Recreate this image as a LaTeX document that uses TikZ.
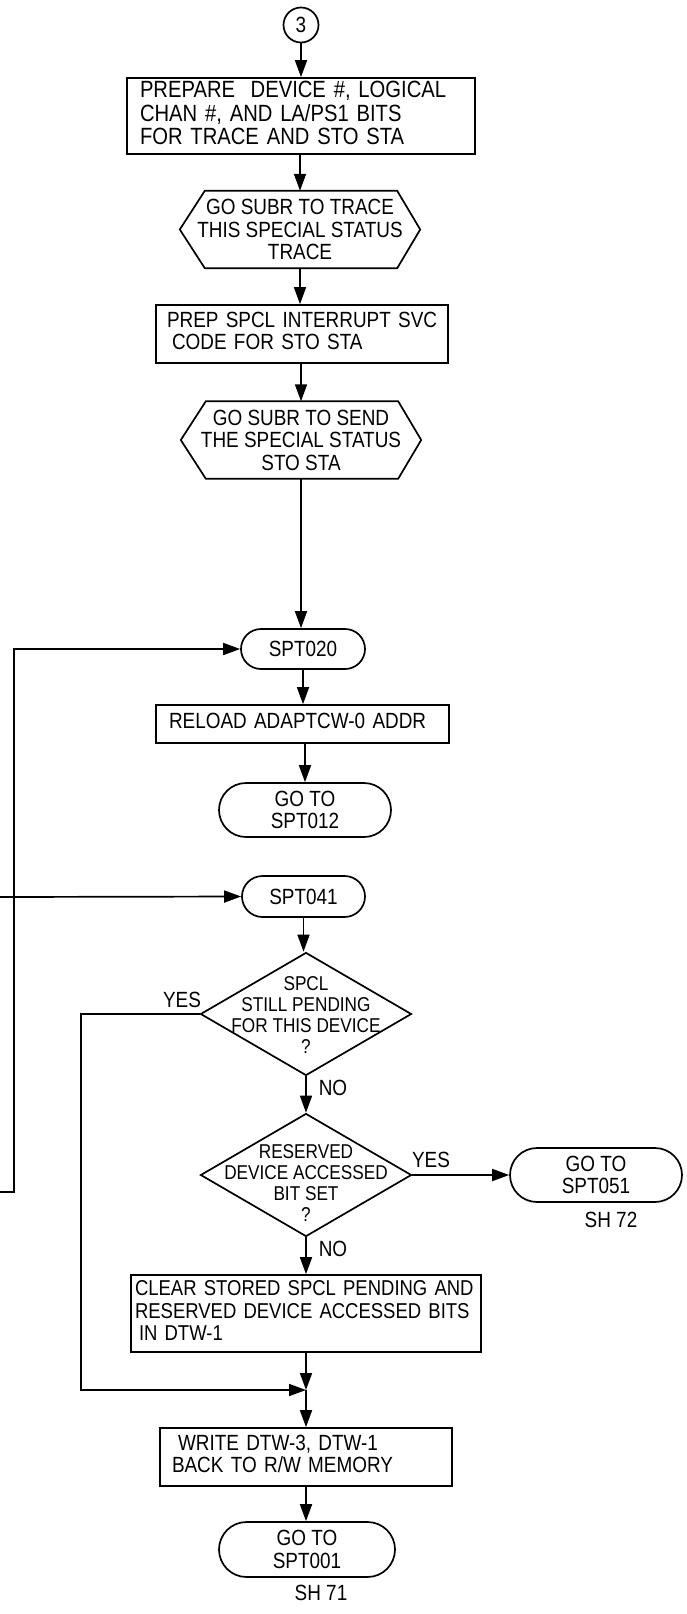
\documentclass[tikz,border=0pt]{standalone}
\usepackage{fontspec}
\setmainfont{Liberation Sans}[FakeStretch=0.86]
\usetikzlibrary{arrows.meta,shapes.geometric,shapes.misc}
\newcommand\hexframe[1]{\draw[line] ([xshift=25pt]#1.north west) -- ([xshift=-23pt]#1.north east) -- (#1.east) -- ([xshift=-23pt]#1.south east) -- ([xshift=25pt]#1.south west) -- (#1.west) -- cycle;}
\newcommand\boxlines[1]{\begin{tabular}{@{}l@{}}#1\end{tabular}}
\begin{document}
\begin{tikzpicture}[x=1pt,y=-1pt,
  line/.style={line width=1.7pt},
  arr/.style={line width=1.7pt,-{Triangle[length=17pt,width=12pt]}},
  ft/.style={font=\fontsize{22}{22.5}\selectfont},
  box/.style={draw,line width=1.7pt,rectangle,align=left,inner ysep=0pt,ft},
  term/.style={draw,line width=1.7pt,rounded rectangle,align=center,inner sep=0pt,ft},
  dia/.style={draw,line width=1.7pt,diamond,inner sep=0pt,minimum width=211pt,minimum height=123pt},
  dtxt/.style={align=center,inner sep=0pt,font=\fontsize{20}{21}\selectfont},
  hexbox/.style={rectangle,inner sep=0pt,minimum width=240pt,minimum height=77pt,align=center,ft},
  lbl/.style={inner sep=0pt,ft},
  circ/.style={draw,line width=1.7pt,circle,minimum size=35pt,inner sep=0pt,ft}]
\useasboundingbox (0,0) rectangle (686,1614);
\fill[white] (0,0) rectangle (686,1614);

\node[circ] (c3) at (301,25) {3};
\node[box,text width=322pt,inner xsep=13pt,minimum height=76pt,font=\fontsize{23.5}{22.5}\selectfont] (b1) at (301,116)
  {\boxlines{PREPARE\ \ DEVICE \#, LOGICAL\\CHAN \#, AND LA/PS1 BITS\\FOR TRACE AND STO STA}};
\node[hexbox] (h1) at (300,229.5) {GO SUBR TO TRACE\\THIS SPECIAL STATUS\\TRACE};
\hexframe{h1}
\node[box,text width=270pt,inner xsep=11pt,minimum height=58pt] (b2) at (302,334)
  {\boxlines{PREP SPCL INTERRUPT SVC\\\hspace*{5pt}CODE FOR STO STA}};
\node[hexbox] (h2) at (301,440) {GO SUBR TO SEND\\THE SPECIAL STATUS\\STO STA};
\hexframe{h2}
\node[term,minimum width=124pt,minimum height=40pt] (s20) at (303,649) {SPT020};
\node[box,text width=267pt,inner xsep=13pt,minimum height=38pt] (rl) at (302.5,724) {\boxlines{RELOAD ADAPTCW-0 ADDR}};
\node[term,minimum width=172pt,minimum height=54pt] (s12) at (305,810) {GO TO\\SPT012};
\node[term,minimum width=123pt,minimum height=41pt] (s41) at (303.5,896.5) {SPT041};

\node[dia] (d1) at (306,1014) {};
\node[dtxt] (d1t) at (306,1015) {SPCL\\STILL PENDING\\FOR THIS DEVICE\\?};
\node[dia] (d2) at (306,1175) {};
\node[dtxt] (d2t) at (306,1183) {RESERVED\\DEVICE ACCESSED\\BIT SET\\?};
\node[term,minimum width=172pt,minimum height=54pt] (s51) at (596,1175) {GO TO\\SPT051};
\node[lbl] (sh72) at (611,1220) {SH 72};

\node[box,text width=342pt,inner xsep=4pt,minimum height=77pt,font=\fontsize{21.5}{22.5}\selectfont] (cl) at (306,1313.5)
  {\boxlines{CLEAR STORED SPCL PENDING AND\\RESERVED DEVICE ACCESSED BITS\\\hspace*{4pt}IN DTW-1}};
\coordinate (j) at (306,1390);
\node[box,text width=268pt,inner xsep=12pt,minimum height=58pt] (wr) at (306,1457)
  {\boxlines{\hspace*{6pt}WRITE DTW-3, DTW-1\\BACK TO R/W MEMORY}};
\node[term,minimum width=176pt,minimum height=55pt] (s01) at (307,1549.5) {GO TO\\SPT001};
\node[lbl] (sh71) at (321,1593) {SH 71};

\node[lbl] (y1) at (182,1000) {YES};
\node[lbl] (n1) at (333,1088) {NO};
\node[lbl] (y2) at (431,1160) {YES};
\node[lbl] (n2) at (333,1249) {NO};

\coordinate (offA) at (0,1192);
\coordinate (offB) at (0,897);

\draw[arr] (c3.south) -- (c3.south |- b1.north);
\draw[arr] (h1.north |- b1.south) -- (h1.north);
\draw[arr] (h1.south) -- (h1.south |- b2.north);
\draw[arr] (h2.north |- b2.south) -- (h2.north);
\draw[arr] (h2.south) -- (h2.south |- s20.north);
\draw[arr] (s20.south) -- (s20.south |- rl.north);
\draw[arr] (rl.south -| s12.north) -- (s12.north);
\draw[arr] (s41.south) -- (s41.south |- d1.north);
\draw[arr] (d1.south) -- (d2.north);
\draw[arr] (d2.south) -- (cl.north);
\draw[arr] (cl.south) -- (j);
\draw[arr] (j) -- (wr.north);
\draw[arr] (wr.south) -- (wr.south |- s01.north);
\draw[arr] (d2.east) -- (s51.west);
\draw[arr] (d1.west) -- ++(-119,0) |- (j);
\draw[arr] (offA) -- ++(14,0) |- (s20.west);
\draw[arr] (offB) -- (s41.west);
\end{tikzpicture}
\end{document}
